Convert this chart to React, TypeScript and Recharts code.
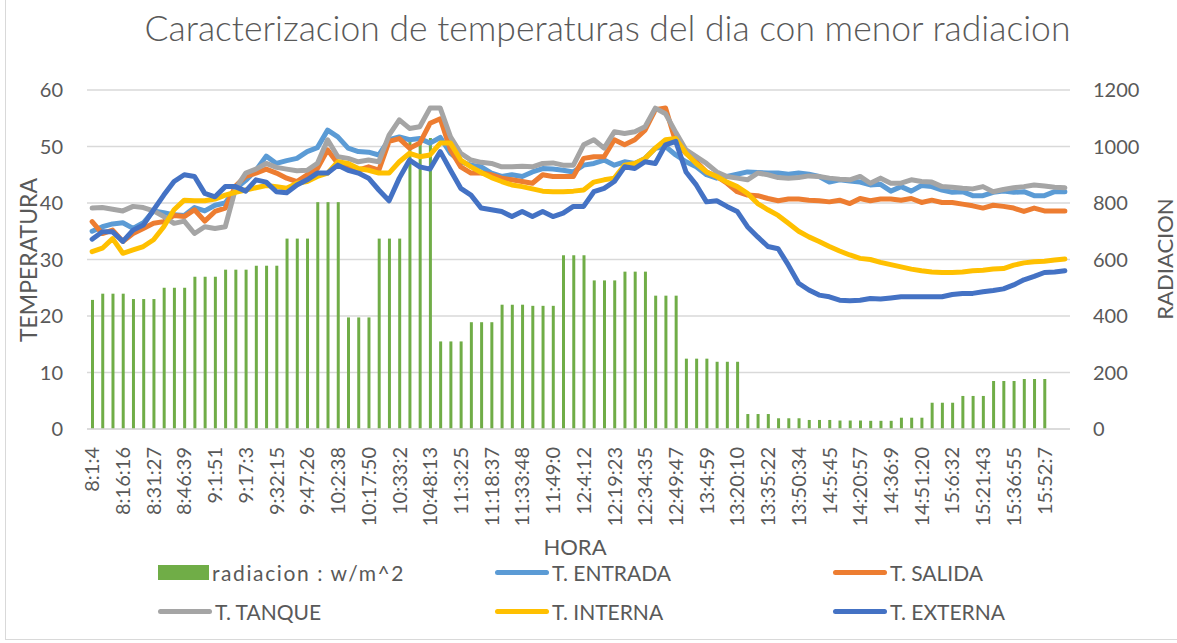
import React from 'react';
import { ComposedChart, Bar, Line, XAxis, YAxis, CartesianGrid } from 'recharts';

// etiquetas del eje X (una cada 3 lecturas)
const horas = [
  '8:1:4', '8:16:16', '8:31:27', '8:46:39', '9:1:51', '9:17:3', '9:32:15', '9:47:26',
  '10:2:38', '10:17:50', '10:33:2', '10:48:13', '11:3:25', '11:18:37', '11:33:48', '11:49:0',
  '12:4:12', '12:19:23', '12:34:35', '12:49:47', '13:4:59', '13:20:10', '13:35:22', '13:50:34',
  '14:5:45', '14:20:57', '14:36:9', '14:51:20', '15:6:32', '15:21:43', '15:36:55', '15:52:7',
];

// radiacion w/m^2 (eje derecho)
const radiacion = [
  457, 479, 479, 479, 460, 460, 460, 500, 500, 500,
  539, 539, 539, 564, 564, 564, 578, 578, 578, 674,
  674, 674, 803, 803, 803, 395, 395, 395, 674, 674,
  674, 1030, 1030, 1030, 310, 310, 310, 378, 378, 378,
  440, 440, 440, 436, 436, 436, 615, 615, 615, 526,
  526, 526, 557, 557, 557, 472, 472, 472, 249, 249,
  249, 238, 238, 238, 53, 53, 53, 38, 38, 38,
  32, 32, 32, 30, 30, 30, 29, 29, 29, 40,
  40, 40, 93, 93, 93, 117, 117, 117, 170, 170,
  170, 177, 177, 177, null, null,
];

const entrada = [
  35.0, 35.8, 36.3, 36.5, 35.5, 36.5, 38.6, 38.3, 37.9, 37.8,
  39.2, 38.6, 39.6, 40.0, 42.5, 44.0, 45.8, 48.3, 47.0, 47.5,
  47.9, 49.1, 49.8, 52.9, 51.7, 49.7, 49.1, 49.0, 48.5, 51.2,
  51.7, 51.2, 51.4, 50.6, 51.6, 48.8, 47.3, 46.7, 46.4, 45.3,
  44.7, 45.0, 44.7, 45.5, 46.1, 46.0, 45.8, 45.5, 46.7, 47.0,
  47.6, 46.7, 47.3, 47.0, 47.9, 49.7, 50.0, 48.5, 47.3, 46.4,
  45.0, 44.4, 44.7, 45.1, 45.5, 45.4, 45.3, 45.3, 45.1, 45.3,
  45.1, 44.7, 43.7, 44.1, 43.9, 43.7, 43.2, 43.3, 42.1, 42.9,
  42.1, 43.1, 42.9, 42.3, 41.9, 42.0, 41.3, 41.3, 41.9, 42.1,
  41.9, 42.0, 41.3, 41.3, 42.0, 42.0,
];

const salida = [
  36.7, 34.6, 35.2, 33.2, 34.6, 35.5, 36.4, 36.7, 37.8, 37.6,
  38.8, 36.8, 38.5, 39.1, 43.0, 44.7, 45.3, 46.0, 45.3, 44.4,
  43.8, 45.0, 46.1, 49.4, 47.0, 46.4, 45.8, 46.4, 45.8, 50.9,
  51.4, 49.7, 50.6, 54.1, 54.9, 49.4, 46.4, 45.3, 45.3, 45.0,
  44.4, 44.1, 43.8, 43.5, 45.0, 44.7, 44.7, 44.7, 47.9, 48.2,
  48.2, 51.2, 50.3, 51.2, 52.9, 56.5, 56.8, 50.8, 48.8, 47.3,
  45.5, 44.7, 43.5, 42.0, 41.4, 41.3, 40.8, 40.4, 40.7, 40.7,
  40.5, 40.4, 40.2, 40.5, 39.9, 40.8, 40.4, 40.7, 40.7, 40.5,
  40.8, 40.1, 40.5, 40.1, 40.1, 39.8, 39.5, 39.1, 39.6, 39.4,
  39.1, 38.5, 39.1, 38.6, 38.6, 38.6,
];

const tanque = [
  39.1, 39.2, 38.9, 38.6, 39.4, 39.2, 38.6, 37.6, 36.4, 36.8,
  34.6, 35.8, 35.5, 35.8, 42.5, 45.3, 46.0, 47.0, 46.3, 46.0,
  45.7, 45.8, 47.0, 51.2, 48.2, 47.9, 47.3, 47.6, 47.3, 52.0,
  54.7, 53.2, 53.5, 56.8, 56.8, 51.7, 48.8, 47.6, 47.2, 47.0,
  46.4, 46.4, 46.5, 46.4, 47.0, 47.1, 46.7, 46.7, 50.3, 51.2,
  49.7, 52.6, 52.3, 52.6, 53.5, 56.8, 55.8, 52.5, 49.4, 48.2,
  47.0, 45.5, 44.7, 44.4, 44.1, 45.3, 45.0, 44.5, 44.4, 44.5,
  44.8, 44.7, 44.4, 44.2, 44.1, 44.7, 43.5, 44.4, 43.5, 43.5,
  44.1, 43.8, 43.7, 42.9, 42.8, 42.6, 42.5, 42.9, 42.0, 42.4,
  42.7, 42.9, 43.2, 43.0, 42.8, 42.7,
];

const interna = [
  31.4, 32.0, 33.7, 31.1, 31.7, 32.3, 33.5, 35.8, 38.8, 40.5,
  40.4, 40.4, 40.7, 41.4, 41.9, 42.3, 42.7, 43.1, 42.9, 42.6,
  43.5, 43.8, 44.7, 45.3, 47.3, 47.0, 46.1, 45.8, 45.3, 45.3,
  47.3, 48.8, 48.2, 48.5, 50.6, 50.6, 47.6, 46.4, 45.4, 44.5,
  43.8, 43.2, 42.9, 42.5, 42.1, 42.0, 42.0, 42.1, 42.3, 43.7,
  44.1, 44.4, 46.7, 47.0, 47.9, 49.7, 51.2, 51.4, 48.8, 47.0,
  45.5, 44.7, 43.7, 42.9, 41.7, 39.9, 38.8, 37.8, 36.4, 35.0,
  34.0, 33.2, 32.3, 31.5, 30.8, 30.2, 30.0, 29.5, 29.1, 28.7,
  28.3, 28.0, 27.8, 27.7, 27.7, 27.8, 28.0, 28.1, 28.3, 28.4,
  29.0, 29.4, 29.6, 29.7, 29.9, 30.1,
];

const externa = [
  33.6, 34.9, 34.9, 33.2, 35.2, 36.1, 38.8, 41.4, 43.8, 45.0,
  44.7, 41.7, 41.1, 42.9, 42.9, 42.1, 44.1, 43.7, 42.0, 41.8,
  43.2, 44.1, 45.3, 45.3, 46.7, 45.8, 45.3, 44.4, 42.3, 40.4,
  44.4, 47.6, 46.4, 46.0, 49.1, 45.8, 42.6, 41.4, 39.1, 38.8,
  38.5, 37.6, 38.5, 37.6, 38.5, 37.6, 38.2, 39.4, 39.4, 42.0,
  42.6, 43.8, 46.4, 46.1, 47.3, 47.0, 50.3, 50.9, 45.5, 43.2,
  40.2, 40.4, 39.4, 38.5, 35.8, 34.0, 32.3, 31.9, 29.0, 25.8,
  24.6, 23.7, 23.4, 22.8, 22.7, 22.8, 23.1, 23.0, 23.2, 23.4,
  23.4, 23.4, 23.4, 23.4, 23.8, 24.0, 24.0, 24.3, 24.5, 24.8,
  25.5, 26.4, 27.0, 27.7, 27.8, 28.0,
];

const data = radiacion.map((r, idx) => ({
  idx,
  radiacion: r,
  entrada: entrada[idx],
  salida: salida[idx],
  tanque: tanque[idx],
  interna: interna[idx],
  externa: externa[idx],
}));

const lineas = [
  { key: 'entrada', name: 'T. ENTRADA', color: '#5B9BD5' },
  { key: 'salida', name: 'T. SALIDA', color: '#ED7D31' },
  { key: 'tanque', name: 'T. TANQUE', color: '#A5A5A5' },
  { key: 'interna', name: 'T. INTERNA', color: '#FFC000' },
  { key: 'externa', name: 'T. EXTERNA', color: '#4472C4' },
];

const gris = '#595959';
const fuente = 'Lato, "Open Sans", sans-serif';

function HoraTick(props: any) {
  const { x, y, payload } = props;
  const label = horas[Math.round(payload.value / 3)];
  return (
    <g transform={`translate(${x},${y})`}>
      <text
        transform='rotate(-90)'
        x={-10}
        y={0}
        dy='0.36em'
        textAnchor='end'
        fill={gris}
        fontSize={20}
        fontFamily={fuente}
      >
        {label}
      </text>
    </g>
  );
}

function Leyenda() {
  const items = [
    { name: 'radiacion : w/m^2', color: '#70AD47', bar: true },
    ...lineas.map((l) => ({ name: l.name, color: l.color, bar: false })),
  ];
  const cols = [158, 495, 833];
  const rows = [572, 611];
  return (
    <>
      {items.map((it, i) => {
        const left = cols[i % 3];
        const top = rows[Math.floor(i / 3)];
        return (
          <div
            key={it.name}
            style={{ position: 'absolute', left, top: top - 13, height: 26, display: 'flex', alignItems: 'center' }}
          >
            {it.bar ? (
              <div style={{ width: 51, height: 15, background: it.color }} />
            ) : (
              <div style={{ width: 54, height: 5, borderRadius: 3, background: it.color }} />
            )}
            <span
              style={{
                marginLeft: 3,
                fontSize: 21,
                color: gris,
                fontFamily: fuente,
                letterSpacing: it.bar ? 1.6 : 0,
              }}
            >
              {it.name}
            </span>
          </div>
        );
      })}
    </>
  );
}

export default function App() {
  return (
    <div style={{ position: 'absolute', left: 0, top: 0, width: 1177, height: 643, background: '#fff', overflow: 'hidden', fontFamily: fuente }}>
      <div style={{ position: 'absolute', left: 5, top: -1, width: 1200, height: 641, border: '1px solid #d9d9d9', boxSizing: 'border-box' }} />
      <div style={{ position: 'absolute', left: 0, width: 1177, top: 6, textAlign: 'center', paddingLeft: 38, boxSizing: 'border-box', fontSize: 35.5, fontWeight: 300, color: gris, fontFamily: fuente, whiteSpace: 'nowrap' }}>
        Caracterizacion de temperaturas del dia con menor radiacion
      </div>
      <ComposedChart width={1177} height={643} data={data} margin={{ top: 90, right: 0, bottom: 114, left: 0 }}>
        <CartesianGrid yAxisId='left' vertical={false} stroke='#d9d9d9' strokeWidth={1.5} />
        <XAxis
          dataKey='idx'
          interval={2}
          height={100}
          tick={<HoraTick />}
          tickLine={false}
          axisLine={{ stroke: '#d9d9d9', strokeWidth: 1.5 }}
        />
        <YAxis
          yAxisId='left'
          width={87}
          domain={[0, 60]}
          ticks={[0, 10, 20, 30, 40, 50, 60]}
          axisLine={false}
          tickLine={false}
          tickMargin={18}
          tick={{ fill: gris, fontSize: 20, fontFamily: fuente }}
        />
        <YAxis
          yAxisId='right'
          orientation='right'
          width={107}
          domain={[0, 1200]}
          ticks={[0, 200, 400, 600, 800, 1000, 1200]}
          axisLine={false}
          tickLine={false}
          tickMargin={17}
          tick={{ fill: gris, fontSize: 20, fontFamily: fuente }}
        />
        <Bar yAxisId='right' dataKey='radiacion' name='radiacion : w/m^2' fill='#70AD47' barSize={3} isAnimationActive={false} />
        {lineas.map((l) => (
          <Line
            key={l.key}
            yAxisId='left'
            type='linear'
            dataKey={l.key}
            name={l.name}
            stroke={l.color}
            strokeWidth={5}
            strokeLinejoin='round'
            strokeLinecap='round'
            dot={false}
            activeDot={false}
            isAnimationActive={false}
          />
        ))}
      </ComposedChart>
      <div style={{ position: 'absolute', left: 28, top: 260, transform: 'translate(-50%, -50%) rotate(-90deg)', fontSize: 23, lineHeight: 1, color: gris, whiteSpace: 'nowrap' }}>
        TEMPERATURA
      </div>
      <div style={{ position: 'absolute', left: 1165, top: 259, transform: 'translate(-50%, -50%) rotate(-90deg)', fontSize: 22, lineHeight: 1, color: gris, whiteSpace: 'nowrap' }}>
        RADIACION
      </div>
      <div style={{ position: 'absolute', left: 575, top: 546, transform: 'translate(-50%, -50%)', fontSize: 22, color: gris, whiteSpace: 'nowrap' }}>
        HORA
      </div>
      <Leyenda />
    </div>
  );
}
